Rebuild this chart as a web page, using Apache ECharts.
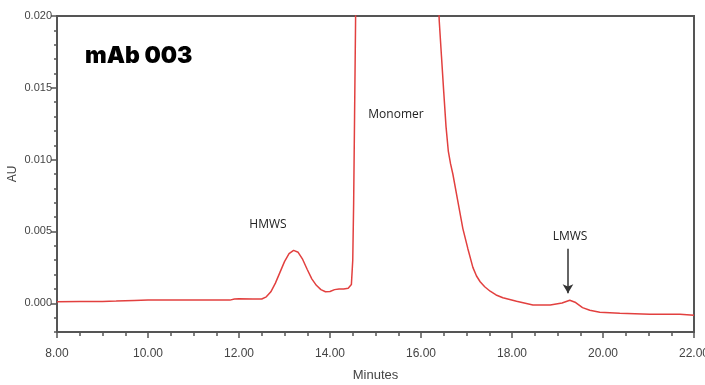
<!DOCTYPE html>
<html>
<head>
<meta charset="utf-8">
<script src="https://cdn.jsdelivr.net/npm/echarts@6/dist/echarts.min.js"></script>
<style>
  html, body { margin: 0; padding: 0; background: #ffffff; }
  #chart { width: 705px; height: 385px; }
</style>
</head>
<body>
<div id="chart"></div>
<script>
// Size-exclusion chromatogram of mAb 003: retention time (min) vs absorbance (AU)
const retentionTime = [
  8.0, 8.5, 9.0, 9.3, 9.5, 9.7, 10.0, 10.5, 11.0, 11.5, 11.8, 11.9, 12.0, 12.3, 12.5,
  12.6, 12.7, 12.8, 12.9, 13.0, 13.1, 13.2, 13.3, 13.4, 13.5, 13.6, 13.7, 13.8, 13.9,
  14.0, 14.1, 14.2, 14.3, 14.4, 14.47, 14.5, 14.52, 14.54, 14.56, 14.58, 14.7, 15.0,
  15.5, 16.0, 16.3, 16.40, 16.45, 16.50, 16.55, 16.60, 16.65, 16.70, 16.81, 16.92,
  17.03, 17.14, 17.22, 17.30, 17.40, 17.52, 17.65, 17.8, 18.1, 18.46, 18.84, 19.1,
  19.27, 19.4, 19.55, 19.71, 19.93, 20.37, 21.03, 21.69, 22.0
];
const absorbance = [
  0.00010, 0.00012, 0.00013, 0.00015, 0.00018, 0.00020, 0.00022, 0.00022, 0.00022,
  0.00023, 0.00022, 0.00030, 0.00032, 0.00030, 0.00030,
  0.00045, 0.00080, 0.00140, 0.00215, 0.00290, 0.00345, 0.00368, 0.00355, 0.00305,
  0.00235, 0.00170, 0.00125, 0.00095, 0.00080,
  0.00082, 0.00095, 0.00100, 0.00100, 0.00105, 0.00130, 0.00300, 0.00700, 0.01300,
  0.01900, 0.02600, 0.04500, 0.08000,
  0.10000, 0.07000, 0.03000, 0.01970, 0.01720, 0.01470, 0.01230, 0.01060, 0.00970,
  0.00900, 0.00710, 0.00520,
  0.00380, 0.00250, 0.00190, 0.00150, 0.00115, 0.00084, 0.00058, 0.00038, 0.00014,
  -0.00012, -0.00012, 0.00002,
  0.00021, 0.00005, -0.00030, -0.00049, -0.00062, -0.00070, -0.00076, -0.00077, -0.00084
];
const yTickValues = [0, 0.005, 0.010, 0.015, 0.020];
const sampleName = 'mAb 003';
const peakNames = ['HMWS', 'Monomer', 'LMWS'];
const lmwsArrow = [[19.23, 0.0038], [19.23, 0.0007]];

const trace = retentionTime.map((t, i) => [t, absorbance[i]]);

const axisColor = '#555555';
const labelFont = '"Liberation Sans Narrow", "Liberation Sans", Arial, sans-serif';

const chart = echarts.init(document.getElementById('chart'), null, { renderer: 'canvas' });

chart.setOption({
  animation: false,
  backgroundColor: '#ffffff',
  grid: {
    left: 57, right: 11, top: 16, bottom: 53,
    containLabel: false,
    outerBoundsMode: 'none',
    show: true, borderColor: axisColor, borderWidth: 2, backgroundColor: 'transparent'
  },
  xAxis: {
    type: 'value',
    min: 8, max: 22, interval: 2,
    name: 'Minutes',
    nameLocation: 'middle',
    nameGap: 37,
    nameMoveOverlap: false,
    nameTextStyle: { fontFamily: labelFont, fontSize: 13, color: '#444' },
    axisLine: { show: true, onZero: false, lineStyle: { color: axisColor, width: 2 } },
    axisTick: { show: true, inside: false, length: 6, lineStyle: { color: axisColor, width: 1.5 } },
    minorTick: { show: true, splitNumber: 4, length: 4, lineStyle: { color: axisColor, width: 1.5 } },
    splitLine: { show: false },
    axisLabel: {
      margin: 16,
      fontFamily: labelFont, fontSize: 12, color: '#444',
      formatter: v => v.toFixed(2)
    }
  },
  yAxis: [
    {
      type: 'value',
      min: -0.002, max: 0.020,
      name: 'AU',
      nameLocation: 'middle',
      nameGap: 38,
      nameMoveOverlap: false,
      nameTextStyle: { fontFamily: labelFont, fontSize: 12, color: '#444' },
      axisLine: { show: true, onZero: false, lineStyle: { color: axisColor, width: 2 } },
      axisTick: { show: true, length: 6, customValues: yTickValues, lineStyle: { color: axisColor, width: 1.5 } },
      splitLine: { show: false },
      axisLabel: {
        margin: 5,
        customValues: yTickValues,
        fontFamily: '"Liberation Sans", Arial, sans-serif', fontSize: 11, color: '#444',
        formatter: v => v.toFixed(3)
      }
    },
    {
      // fine ticks every 0.001 AU along the left edge
      type: 'value',
      position: 'left',
      min: -0.002, max: 0.020, interval: 0.001,
      axisLine: { show: false, onZero: false },
      axisTick: { show: true, length: 3, lineStyle: { color: axisColor, width: 1.5 } },
      axisLabel: { show: false },
      splitLine: { show: false }
    }
  ],
  series: [
    {
      type: 'line',
      data: trace,
      yAxisIndex: 0,
      showSymbol: false,
      smooth: false,
      clip: true,
      lineStyle: { color: '#e2403f', width: 1.5 },
      markLine: {
        silent: true,
        symbol: ['none', 'arrow'],
        symbolSize: [8, 9],
        label: { show: false },
        lineStyle: { color: '#333333', width: 1.5, type: 'solid' },
        data: [[{ coord: lmwsArrow[0] }, { coord: lmwsArrow[1] }]]
      }
    }
  ],
  graphic: [
    {
      type: 'text', left: 85, top: 45,
      style: {
        text: sampleName, fill: '#000',
        font: '900 23px Inter, "Open Sans", sans-serif'
      }
    },
    {
      type: 'text', x: 268, y: 225,
      style: { text: peakNames[0], fill: '#222', font: '12px "Open Sans", sans-serif', textAlign: 'center', textVerticalAlign: 'middle' }
    },
    {
      type: 'text', x: 396, y: 115,
      style: { text: peakNames[1], fill: '#222', font: '12px "Open Sans", sans-serif', textAlign: 'center', textVerticalAlign: 'middle' }
    },
    {
      type: 'text', x: 570, y: 237,
      style: { text: peakNames[2], fill: '#222', font: '12px "Open Sans", sans-serif', textAlign: 'center', textVerticalAlign: 'middle' }
    }
  ]
});
</script>
</body>
</html>
